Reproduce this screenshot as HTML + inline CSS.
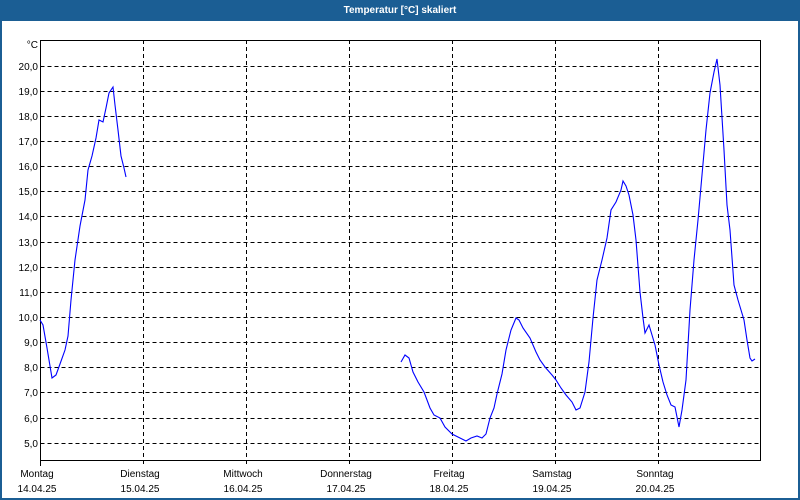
<!DOCTYPE html>
<html><head><meta charset="utf-8"><style>
html,body{margin:0;padding:0;background:#fff}
svg{display:block}
text{font-family:"Liberation Sans","DejaVu Sans",sans-serif;font-size:10px;fill:#000}
</style></head><body>
<svg width="800" height="500" viewBox="0 0 800 500">
<rect x="0" y="0" width="800" height="500" fill="#1b5e94"/>
<rect x="2" y="21" width="796" height="477" fill="#fff"/>
<text x="400" y="13" text-anchor="middle" style="fill:#fff;font-weight:bold;font-size:10px">Temperatur [°C] skaliert</text>
<g stroke="#000" stroke-width="1" stroke-dasharray="4,3" fill="none">
<path d="M40.5 66.5H760M40.5 91.5H760M40.5 116.5H760M40.5 141.5H760M40.5 166.5H760M40.5 191.5H760M40.5 216.5H760M40.5 242.5H760M40.5 267.5H760M40.5 292.5H760M40.5 317.5H760M40.5 342.5H760M40.5 367.5H760M40.5 392.5H760M40.5 418.5H760M40.5 443.5H760"/>
<path d="M143.5 40V466M246.5 40V466M349.5 40V466M452.5 40V466M555.5 40V466M658.5 40V466"/>
</g>
<path d="M40.5 466V40.5H760.5V460.5H40.5" stroke="#000" fill="none"/>
<g font-size="10">
<text x="38" y="48" text-anchor="end">°C</text>
<text x="38" y="70" text-anchor="end">20,0</text>
<text x="38" y="95" text-anchor="end">19,0</text>
<text x="38" y="120" text-anchor="end">18,0</text>
<text x="38" y="145" text-anchor="end">17,0</text>
<text x="38" y="170" text-anchor="end">16,0</text>
<text x="38" y="195" text-anchor="end">15,0</text>
<text x="38" y="220" text-anchor="end">14,0</text>
<text x="38" y="246" text-anchor="end">13,0</text>
<text x="38" y="271" text-anchor="end">12,0</text>
<text x="38" y="296" text-anchor="end">11,0</text>
<text x="38" y="321" text-anchor="end">10,0</text>
<text x="38" y="346" text-anchor="end">9,0</text>
<text x="38" y="371" text-anchor="end">8,0</text>
<text x="38" y="396" text-anchor="end">7,0</text>
<text x="38" y="422" text-anchor="end">6,0</text>
<text x="38" y="447" text-anchor="end">5,0</text>
</g>
<g text-anchor="middle">
<text x="37" y="477">Montag</text><text x="37" y="492">14.04.25</text>
<text x="140" y="477">Dienstag</text><text x="140" y="492">15.04.25</text>
<text x="243" y="477">Mittwoch</text><text x="243" y="492">16.04.25</text>
<text x="346" y="477">Donnerstag</text><text x="346" y="492">17.04.25</text>
<text x="449" y="477">Freitag</text><text x="449" y="492">18.04.25</text>
<text x="552" y="477">Samstag</text><text x="552" y="492">19.04.25</text>
<text x="655" y="477">Sonntag</text><text x="655" y="492">20.04.25</text>
</g>
<g stroke="#0000ff" stroke-width="1.1" fill="none">
<polyline points="40,320 43,325 47,348 52,378 56,375 60,364 65,350 68,336 71,300 75,260 80,226 85,200 88,170 92,156 96,138 99,120 103,122 106,108 109,93 113,87 115,105 118,130 121,156 124,168 126,177"/>
<polyline points="401,362 405,355 409,358 413,372 418,382 424,392 430,408 434,415 440,418 445,427 452,434 460,438 466,441 471,438 477,436 482,438 486,434 490,418 494,408 497,394 502,374 506,350 511,330 516,318 519,320 523,328 530,338 536,352 540,360 545,367 552,375 556,380 561,388 566,395 572,402 576,410 580,408 585,392 589,362 593,318 597,280 602,260 607,238 611,210 616,202 621,190 623,181 626,186 629,195 633,215 636,240 640,292 643,318 645,333 649,325 652,335 655,345 659,365 663,382 667,395 671,405 675,407 679,427 682,410 686,380 690,310 694,260 698,220 702,175 706,130 710,93 714,72 717,59 720,85 724,150 727,205 730,230 734,285 738,300 741,310 744,320 747,340 750,358 752,361 755,359"/>
</g>
</svg>
</body></html>
